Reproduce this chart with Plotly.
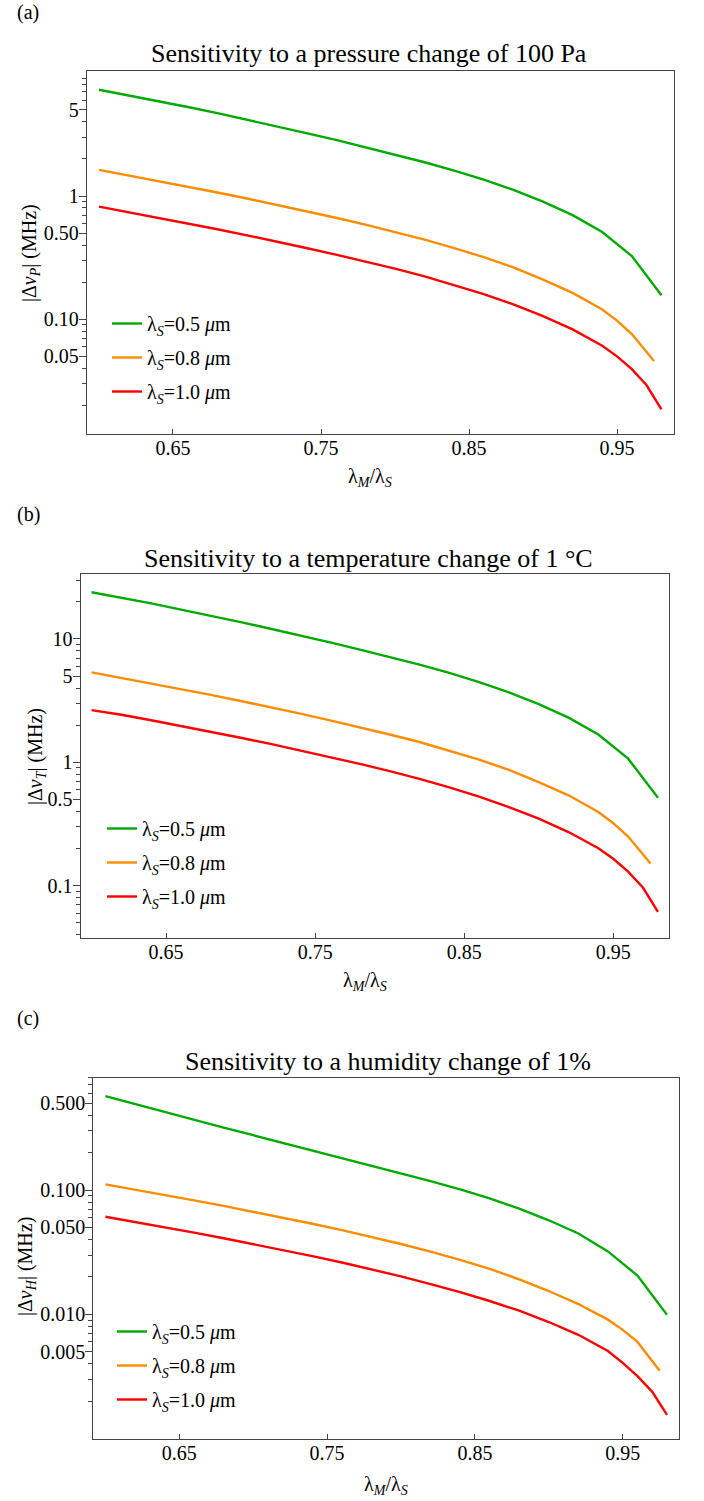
import plotly.graph_objects as go

# ---------------- data ----------------
x_green = [0.60, 0.62, 0.64, 0.66, 0.68, 0.70, 0.72, 0.74, 0.76, 0.78, 0.80, 0.82, 0.84, 0.86, 0.88, 0.90, 0.92, 0.94, 0.96, 0.98]
x_orange = [0.60, 0.62, 0.64, 0.66, 0.68, 0.70, 0.72, 0.74, 0.76, 0.78, 0.80, 0.82, 0.84, 0.86, 0.88, 0.90, 0.92, 0.94, 0.95, 0.96, 0.975]
x_red = [0.60, 0.62, 0.64, 0.66, 0.68, 0.70, 0.72, 0.74, 0.76, 0.78, 0.80, 0.82, 0.84, 0.86, 0.88, 0.90, 0.92, 0.94, 0.95, 0.96, 0.97, 0.98]

# (a) pressure, 100 Pa
green_a = [7.28, 6.56, 5.89, 5.27, 4.70, 4.17, 3.68, 3.24, 2.85, 2.49, 2.17, 1.88, 1.61, 1.36, 1.12, 0.90, 0.70, 0.51, 0.326, 0.157]
orange_a = [1.63, 1.471, 1.327, 1.193, 1.069, 0.955, 0.850, 0.754, 0.667, 0.586, 0.512, 0.443, 0.378, 0.319, 0.264, 0.210, 0.164, 0.120, 0.0977, 0.0759, 0.0459]
red_a = [0.820, 0.740, 0.667, 0.600, 0.538, 0.480, 0.428, 0.379, 0.335, 0.295, 0.258, 0.223, 0.190, 0.160, 0.132, 0.106, 0.0828, 0.0610, 0.0501, 0.0394, 0.0292, 0.0186]

# (b) temperature, 1 C
green_b = [23.9, 21.6, 19.4, 17.3, 15.5, 13.7, 12.1, 10.7, 9.38, 8.19, 7.14, 6.19, 5.30, 4.47, 3.68, 2.96, 2.30, 1.68, 1.07, 0.516]
orange_b = [5.36, 4.84, 4.37, 3.92, 3.52, 3.14, 2.80, 2.48, 2.19, 1.93, 1.68, 1.46, 1.24, 1.05, 0.869, 0.691, 0.540, 0.395, 0.321, 0.250, 0.151]
red_b = [2.65, 2.43, 2.19, 1.97, 1.77, 1.58, 1.41, 1.25, 1.10, 0.971, 0.849, 0.734, 0.625, 0.526, 0.434, 0.349, 0.272, 0.201, 0.165, 0.130, 0.0961, 0.0612]

# (c) humidity, 1%
green_c = [0.570, 0.491, 0.424, 0.366, 0.318, 0.276, 0.240, 0.208, 0.181, 0.157, 0.136, 0.118, 0.101, 0.0855, 0.0708, 0.0571, 0.0447, 0.0321, 0.0205, 0.0099]
orange_c = [0.111, 0.101, 0.0914, 0.0826, 0.0745, 0.0670, 0.0600, 0.0535, 0.0475, 0.0420, 0.0368, 0.0319, 0.0274, 0.0232, 0.0191, 0.0154, 0.0121, 0.00906, 0.00750, 0.00600, 0.00352]
red_c = [0.0610, 0.0555, 0.0502, 0.0454, 0.0409, 0.0368, 0.0330, 0.0294, 0.0261, 0.0231, 0.0202, 0.0175, 0.0151, 0.0128, 0.0107, 0.00867, 0.00684, 0.00507, 0.00407, 0.00318, 0.00238, 0.00155]

series_names = ["λ<sub><i>S</i></sub>=0.5 <i>μ</i>m", "λ<sub><i>S</i></sub>=0.8 <i>μ</i>m", "λ<sub><i>S</i></sub>=1.0 <i>μ</i>m"]

x_tickvals = [0.65, 0.75, 0.85, 0.95]
x_ticktext = ["0.65", "0.75", "0.85", "0.95"]

ytick_a = [0.05, 0.1, 0.5, 1, 5]
ytext_a = ["0.05", "0.10", "0.50", "1", "5"]
ytick_b = [0.1, 0.5, 1, 5, 10]
ytext_b = ["0.1", "0.5", "1", "5", "10"]
ytick_c = [0.005, 0.01, 0.05, 0.1, 0.5]
ytext_c = ["0.005", "0.010", "0.050", "0.100", "0.500"]

titles = ["Sensitivity to a pressure change of 100 Pa",
          "Sensitivity to a temperature change of 1 °C",
          "Sensitivity to a humidity change of 1%"]
ytitles = ["|Δ<i>ν</i><sub><i>P</i></sub>| (MHz)",
           "|Δ<i>ν</i><sub><i>T</i></sub>| (MHz)",
           "|Δ<i>ν</i><sub><i>H</i></sub>| (MHz)"]
xtitle = "λ<sub><i>M</i></sub>/λ<sub><i>S</i></sub>"
panel_labels = ["(a)", "(b)", "(c)"]

# ---------------- layout helpers ----------------
W, H = 704, 1501
FONT = "Liberation Serif"
COLORS = ["#00aa00", "#ff8c00", "#ff0000"]


def px_x(p):
    return p / W


def px_y(p):
    return 1 - p / H


def minor_vals(lo, hi):
    vals = []
    for e in range(-5, 3):
        for m in range(2, 10):
            v = m * 10 ** e
            if lo <= v <= hi:
                vals.append(v)
    return vals


panels = [
    dict(xs=[x_green, x_orange, x_red], ys=[green_a, orange_a, red_a],
         xpx=(87, 674), ypx=(71, 434), xr=[0.5919, 0.9885], yr=[-1.930, 1.014],
         yt=(ytick_a, ytext_a), minor=(0.011, 11),
         leg=(107, 304), title=(369, 54), xt=(370, 477), yl=(30, 253), pl=(28, 13)),
    dict(xs=[x_green, x_orange, x_red], ys=[green_b, orange_b, red_b],
         xpx=(80.7, 669.3), ypx=(574.3, 937.7), xr=[0.5927, 0.9876], yr=[-1.422, 1.524],
         yt=(ytick_b, ytext_b), minor=(0.037, 34),
         leg=(102, 809), title=(368, 558), xt=(365, 981), yl=(36, 757), pl=(28, 514)),
    dict(xs=[x_green, x_orange, x_red], ys=[green_c, orange_c, red_c],
         xpx=(93.3, 679.3), ypx=(1077.7, 1439), xr=[0.5918, 0.9883], yr=[-3.003, -0.0965],
         yt=(ytick_c, ytext_c), minor=(0.00099, 0.81),
         leg=(112, 1312), title=(388, 1061), xt=(386, 1485), yl=(26, 1267), pl=(28, 1018)),
]

fig = go.Figure()
layout = dict(width=W, height=H, margin=dict(l=0, r=0, t=0, b=0),
              paper_bgcolor="white", plot_bgcolor="white",
              font=dict(family=FONT, size=20, color="black"),
              showlegend=True)
annotations = []

for i, p in enumerate(panels):
    k = "" if i == 0 else str(i + 1)
    leg_name = "legend" + k
    for j in range(3):
        fig.add_trace(go.Scatter(
            x=p["xs"][j], y=p["ys"][j], mode="lines",
            line=dict(color=COLORS[j], width=2.4),
            name=series_names[j], legend=leg_name,
            legendgroup=f"g{i}{j}",
            xaxis="x" + k, yaxis="y" + k, showlegend=True))

    layout["xaxis" + k] = dict(
        domain=[px_x(p["xpx"][0]), px_x(p["xpx"][1])],
        anchor="y" + k, range=p["xr"],
        showline=True, mirror=True, linecolor="#444", linewidth=1.3,
        ticks="inside", ticklen=5, tickcolor="#444", tickwidth=1,
        tickvals=x_tickvals, ticktext=x_ticktext, ticklabelstandoff=-4,
        showgrid=False, zeroline=False,
        tickfont=dict(family=FONT, size=20, color="black"))
    layout["yaxis" + k] = dict(
        domain=[px_y(p["ypx"][1]), px_y(p["ypx"][0])],
        anchor="x" + k, type="log", range=p["yr"],
        showline=True, mirror=True, linecolor="#444", linewidth=1.3,
        ticks="outside", ticklen=7, tickcolor="#444", tickwidth=1,
        tickvals=p["yt"][0], ticktext=p["yt"][1], ticklabelstandoff=-4,
        minor=dict(tickvals=minor_vals(*p["minor"]), ticks="outside",
                   ticklen=4, tickcolor="#444", tickwidth=1, showgrid=False),
        showgrid=False, zeroline=False,
        tickfont=dict(family=FONT, size=20, color="black"))
    layout[leg_name] = dict(
        x=px_x(p["leg"][0]), y=px_y(p["leg"][1]), xanchor="left", yanchor="top",
        bgcolor="rgba(0,0,0,0)", borderwidth=0, tracegroupgap=5,
        font=dict(family=FONT, size=20, color="black"))

    annotations.append(dict(text=titles[i], x=px_x(p["title"][0]), y=px_y(p["title"][1]),
                            xref="paper", yref="paper", showarrow=False,
                            xanchor="center", yanchor="middle",
                            font=dict(family=FONT, size=26, color="black")))
    annotations.append(dict(text=xtitle, x=px_x(p["xt"][0]), y=px_y(p["xt"][1]),
                            xref="paper", yref="paper", showarrow=False,
                            xanchor="center", yanchor="middle",
                            font=dict(family=FONT, size=20, color="black")))
    annotations.append(dict(text=ytitles[i], x=px_x(p["yl"][0]), y=px_y(p["yl"][1]),
                            xref="paper", yref="paper", showarrow=False, textangle=-90,
                            xanchor="center", yanchor="middle",
                            font=dict(family=FONT, size=20, color="black")))
    annotations.append(dict(text=panel_labels[i], x=px_x(p["pl"][0]), y=px_y(p["pl"][1]),
                            xref="paper", yref="paper", showarrow=False,
                            xanchor="center", yanchor="middle",
                            font=dict(family=FONT, size=20, color="black")))

layout["annotations"] = annotations
fig.update_layout(**layout)
fig.write_html("out.html", config={"displayModeBar": False},
               post_script="document.body.style.margin='0';document.body.style.overflow='hidden';")
